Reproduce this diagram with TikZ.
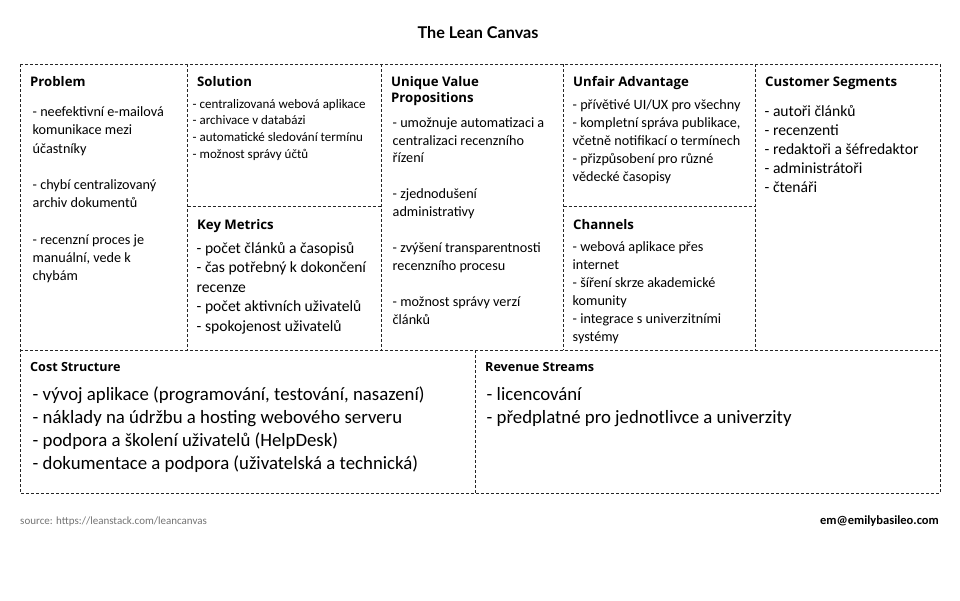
\documentclass[tikz,border=0pt]{standalone}
\usepackage{fontspec}
\setmainfont{Carlito}
\newfontfamily\headfont{Open Sans}
\newfontfamily\titlefont{Lato}
\begin{document}
% Multi-line nodes are anchored at the baseline of their last line.
\begin{tikzpicture}[x=1pt,y=-1pt,
  gridline/.style={draw=black!85, line width=0.8pt, dash pattern=on 3pt off 2pt},
  head/.style={anchor=base west, inner sep=0pt, align=left,
    font=\headfont\bfseries\fontsize{13.2}{16}\selectfont},
  headsmall/.style={head, font=\headfont\bfseries\fontsize{12.6}{15}\selectfont},
  bodymid/.style={anchor=base west, inner sep=0pt, align=left,
    font=\fontsize{14.2}{18}\selectfont},
  bodysmall/.style={bodymid, font=\fontsize{13}{16.7}\selectfont},
  bodybig/.style={bodymid, font=\fontsize{15.6}{19.4}\selectfont},
  bodylarge/.style={bodymid, font=\fontsize{18.8}{23}\selectfont},
]
\useasboundingbox (0,0) rectangle (960,600);

% title
\node[anchor=base, inner sep=0pt, font=\titlefont\bfseries\fontsize{16.2}{19}\selectfont] (title) at (478,38.5) {The Lean Canvas};

% grid corners
\coordinate (tl) at (20,64);
\coordinate (br) at (940,493);
\coordinate (ml) at (20,350);
\coordinate (mr) at (940,350);
\coordinate (v1t) at (187.5,64);  \coordinate (v1b) at (187.5,350);
\coordinate (v2t) at (381,64);    \coordinate (v2b) at (381,350);
\coordinate (v3t) at (563.5,64);  \coordinate (v3b) at (563.5,350);
\coordinate (v4t) at (755,64);    \coordinate (v4b) at (755,350);
\coordinate (h1l) at (187.5,206.5); \coordinate (h1r) at (381,206.5);
\coordinate (h2l) at (563.5,206.5); \coordinate (h2r) at (755,206.5);
\coordinate (v5t) at (475.5,350); \coordinate (v5b) at (475.5,493);

\draw[gridline] (tl) rectangle (br);
\draw[gridline] (ml) -- (mr);
\draw[gridline] (v1t) -- (v1b);
\draw[gridline] (v2t) -- (v2b);
\draw[gridline] (v3t) -- (v3b);
\draw[gridline] (v4t) -- (v4b);
\draw[gridline] (h1l) -- (h1r);
\draw[gridline] (h2l) -- (h2r);
\draw[gridline] (v5t) -- (v5b);

% Problem
\node[head] (problemhead) at (30,86) {Problem};
\node[bodymid, font=\fontsize{14.2}{18.2}\selectfont] (problembody) at (32.5,280.4) {%
- neefektivní e-mailová\\komunikace mezi\\účastníky\\[18.2pt]%
- chybí centralizovaný\\archiv dokumentů\\[18.2pt]%
- recenzní proces je\\manuální, vede k\\chybám};

% Solution
\node[head] (solutionhead) at (197,86) {Solution};
\node[bodysmall] (solutionbody) at (192.5,158.2) {%
- centralizovaná webová aplikace\\- archivace v databázi\\%
- automatické sledování termínu\\- možnost správy účtů};

% Key Metrics
\node[head] (metricshead) at (197,229) {Key Metrics};
\node[bodybig] (metricsbody) at (196.5,331.1) {%
- počet článků a časopisů\\- čas potřebný k dokončení\\recenze\\%
- počet aktivních uživatelů\\- spokojenost uživatelů};

% Unique Value Propositions
\node[head] (uvphead) at (391,102) {Unique Value\\Propositions};
\node[bodymid, font=\fontsize{14.2}{17.9}\selectfont] (uvpbody) at (392.5,324) {%
- umožnuje automatizaci a\\centralizaci recenzního\\řízení\\[17.9pt]%
- zjednodušení\\administrativy\\[17.9pt]%
- zvýšení transparentnosti\\recenzního procesu\\[17.9pt]%
- možnost správy verzí\\článků};

% Unfair Advantage
\node[head] (unfairhead) at (573,86) {Unfair Advantage};
\node[bodymid] (unfairbody) at (572.5,181.6) {%
- přívětivé UI/UX pro všechny\\- kompletní správa publikace,\\%
včetně notifikací o termínech\\- přizpůsobení pro různé\\vědecké časopisy};

% Channels
\node[head] (channelshead) at (573,229) {Channels};
\node[bodymid] (channelsbody) at (572.5,341.6) {%
- webová aplikace přes\\internet\\- šíření skrze akademické\\%
komunity\\- integrace s univerzitními\\systémy};

% Customer Segments
\node[head] (customerhead) at (765,86) {Customer Segments};
\node[bodybig, font=\fontsize{15.6}{19.2}\selectfont] (customerbody) at (764.5,192.8) {%
- autoři článků\\- recenzenti\\- redaktoři a šéfredaktor\\%
- administrátoři\\- čtenáři};

% Cost Structure
\node[headsmall] (costhead) at (30,371.5) {Cost Structure};
\node[bodylarge] (costbody) at (32.5,469.2) {%
- vývoj aplikace (programování, testování, nasazení)\\%
- náklady na údržbu a hosting webového serveru\\%
- podpora a školení uživatelů (HelpDesk)\\%
- dokumentace a podpora (uživatelská a technická)};

% Revenue Streams
\node[headsmall] (revenuehead) at (485,371.5) {Revenue Streams};
\node[bodylarge] (revenuebody) at (486.5,423.2) {%
- licencování\\- předplatné pro jednotlivce a univerzity};

% footer
\node[anchor=base west, inner sep=0pt, text=black!55, font=\fontsize{11}{13}\selectfont] (source) at (20,524) {source: https://leanstack.com/leancanvas};
\node[anchor=base east, inner sep=0pt, font=\bfseries\fontsize{12.5}{15}\selectfont] (author) at (939,524) {em@emilybasileo.com};
\end{tikzpicture}
\end{document}
